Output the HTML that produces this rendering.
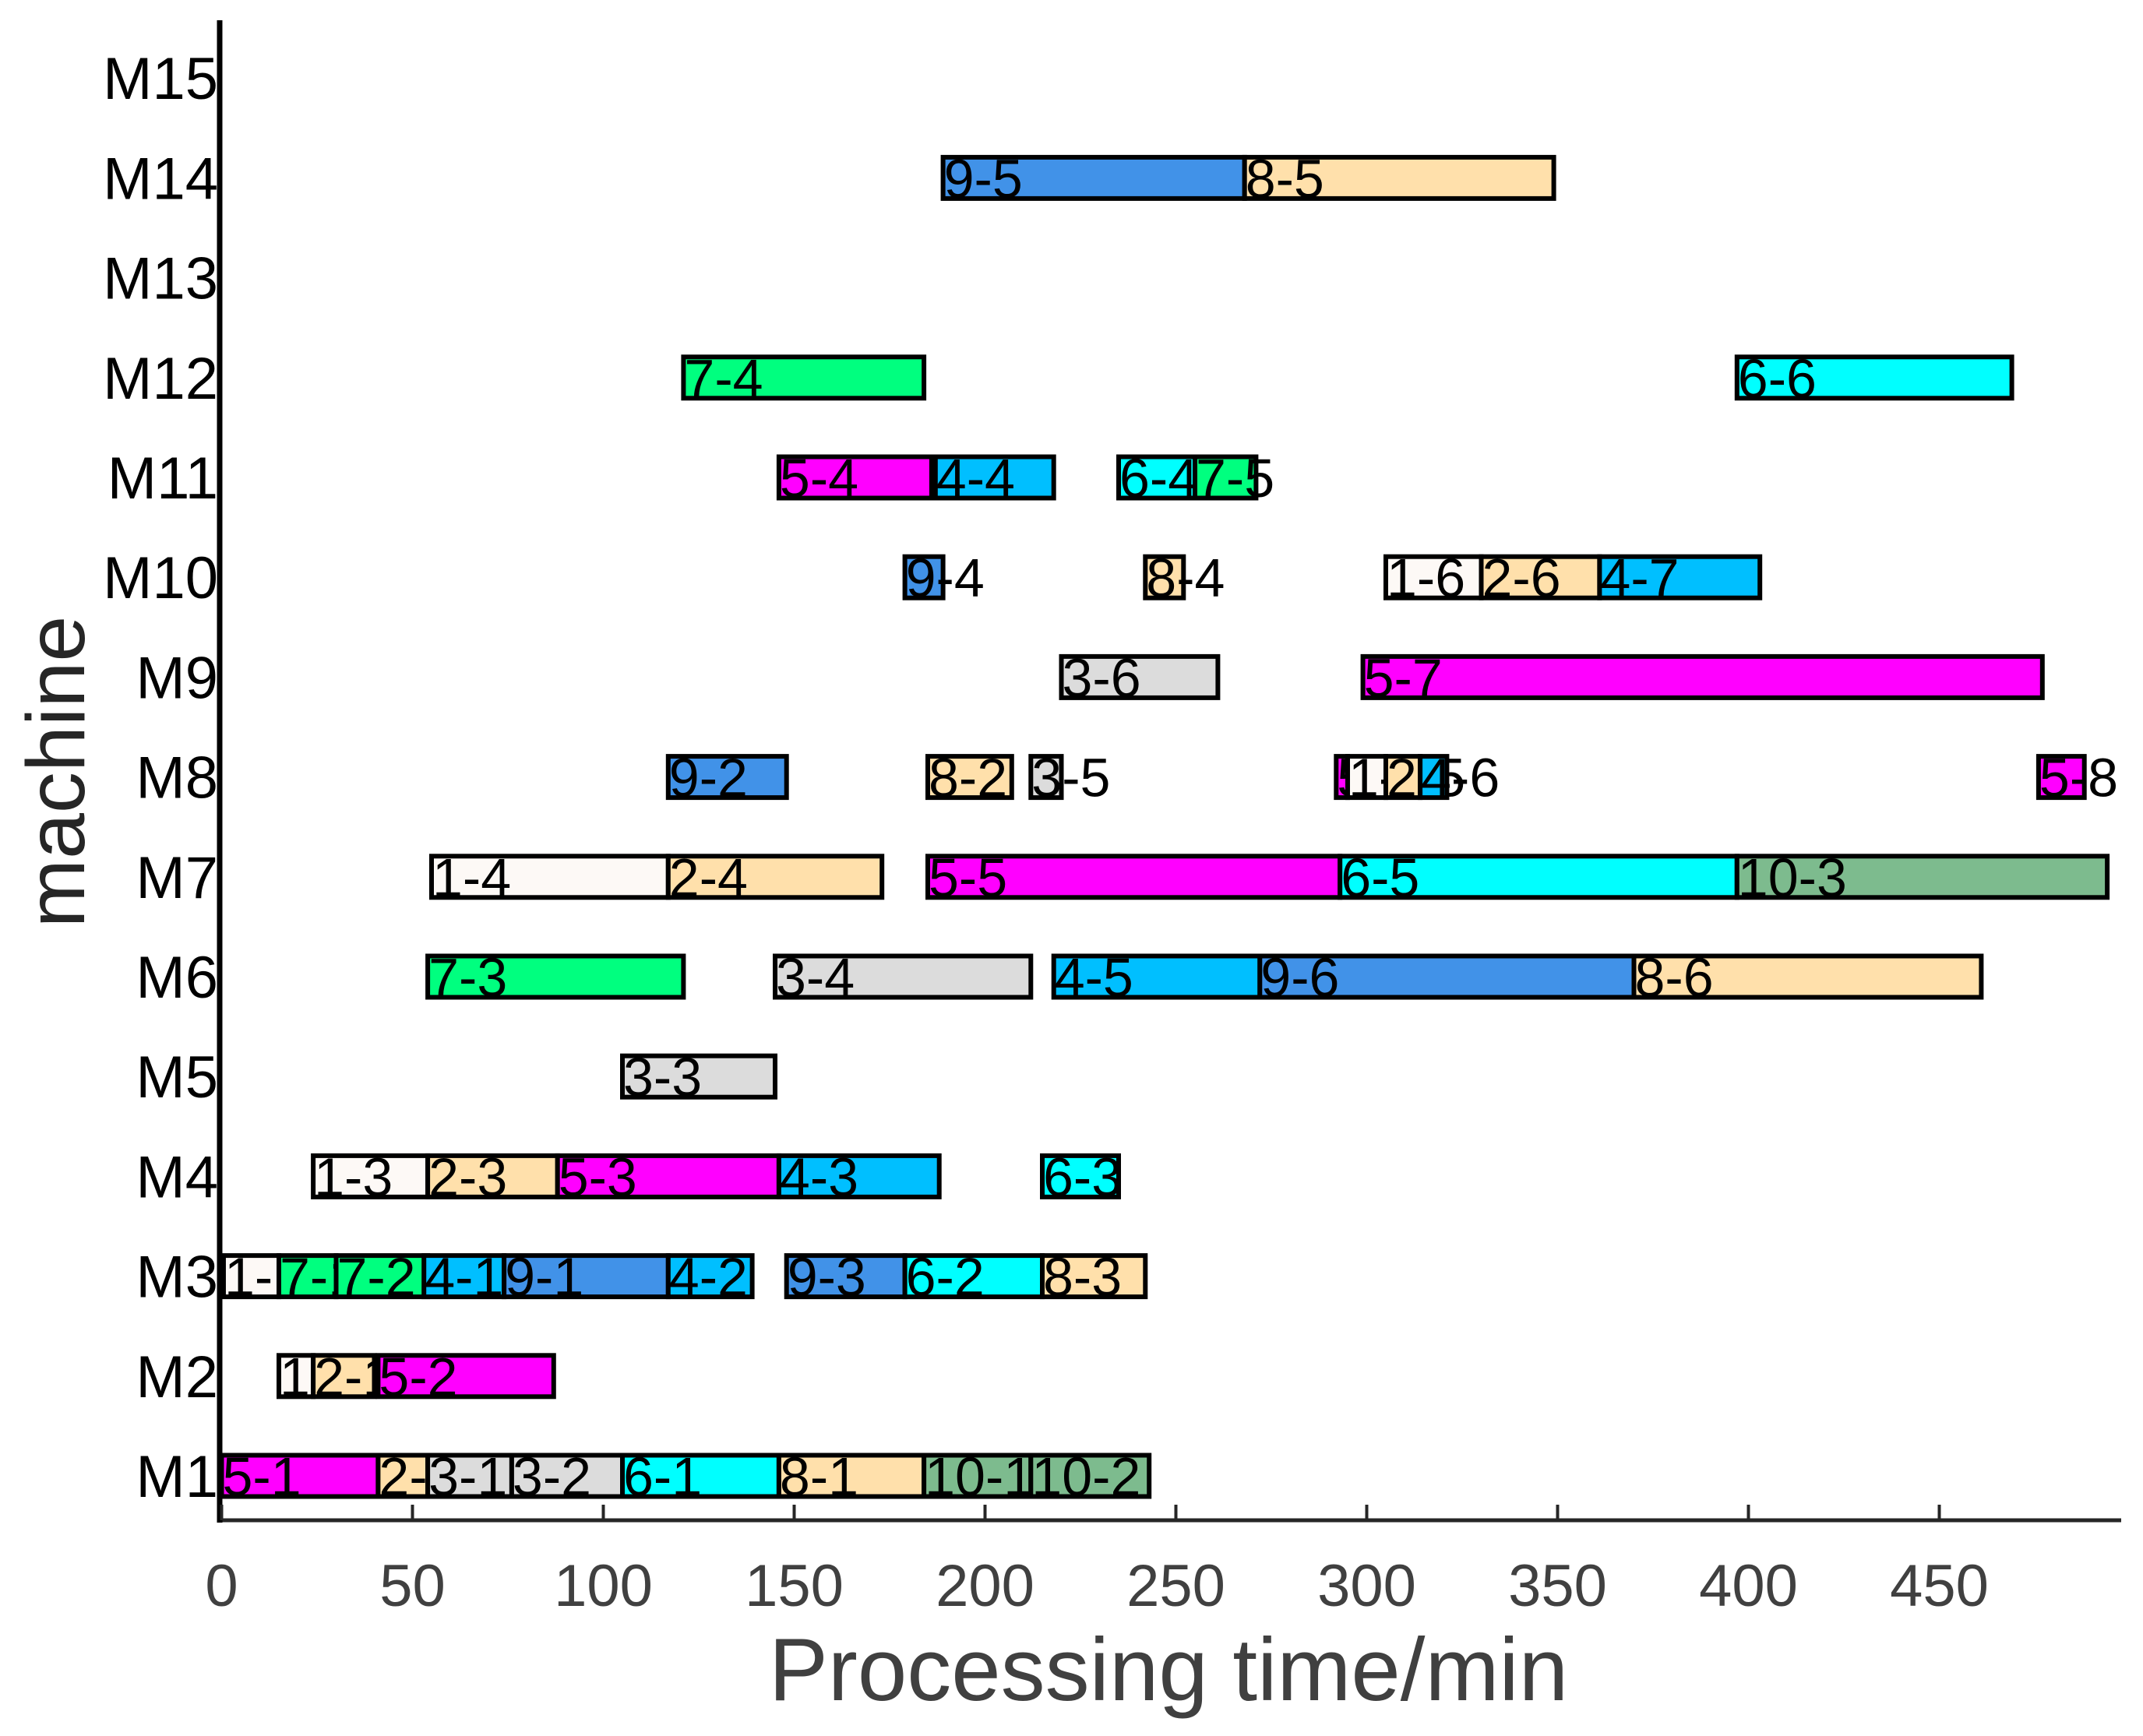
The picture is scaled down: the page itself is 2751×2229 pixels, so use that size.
<!DOCTYPE html>
<html><head><meta charset="utf-8"><style>
html,body{margin:0;padding:0;background:#fff;}
svg{display:block;font-family:"Liberation Sans",Arial,sans-serif;}
</style></head><body>
<svg id="chart" width="2751" height="2229" viewBox="0 0 2751 2229" xmlns="http://www.w3.org/2000/svg">
<g id="bars"></g>
<g id="axes"></g>
<text x="1500" y="2183" font-size="114" fill="#404040" text-anchor="middle">Processing time/min</text>
<text x="0" y="0" font-size="106" fill="#262626" text-anchor="middle" transform="translate(108,991) rotate(-90)">machine</text>
</svg>
<script>
const machineLabels = ["M1","M2","M3","M4","M5","M6","M7","M8","M9","M10","M11","M12","M13","M14","M15"];
const xTicks = [0,50,100,150,200,250,300,350,400,450];
const jobColors = ["#fdf9f6","#ffe0ab","#dcdcdc","#00bfff","#ff00ff","#00ffff","#00ff7f","#ffe0ab","#4192e8","#7dbb8e"];
const taskMachine = [1,1,1,1,1,1,1,1, 2,2,2, 3,3,3,3,3,3,3,3,3, 4,4,4,4,4, 5, 6,6,6,6,6, 7,7,7,7,7, 8,8,8,8,8,8,8,8, 9,9, 10,10,10,10,10, 11,11,11,11, 12,12, 14,14];
const taskLabel = ["5-1","2-1","3-1","3-2","6-1","8-1","10-1","10-2",
 "1-1","2-1","5-2",
 "1-1","7-1","7-2","4-1","9-1","4-2","9-3","6-2","8-3",
 "1-3","2-3","5-3","4-3","6-3",
 "3-3",
 "7-3","3-4","4-5","9-6","8-6",
 "1-4","2-4","5-5","6-5","10-3",
 "9-2","8-2","3-5","5-6","1-5","2-5","4-6","5-8",
 "3-6","5-7",
 "9-4","8-4","1-6","2-6","4-7",
 "5-4","4-4","6-4","7-5",
 "7-4","6-6",
 "9-5","8-5"];
const taskStart = [0,41,54,76,105,146,184,212,
 15,24,41,
 0.5,15,30,53,74,117,148,179,215,
 24,54,88,146,215,
 105,
 54,145,218,272,370,
 55,117,185,293,397,
 117,185,212,292,295,305,314,476,
 220,299,
 179,242,305,330,361,
 146,187,235,255,
 121,397,
 189,268];
const taskEnd = [41,54,76,105,146,184,212,243,
 24,40,87,
 15,30,54,74,117,139,179,215,242,
 54,88,146,188,235,
 145,
 121,212,272,370,461,
 117,173,293,397,494,
 148,207,220,295,305,314,321,488,
 261,477,
 189,252,330,361,403,
 186,218,256,271,
 184,469,
 268,349];

const X0=284.5, KX=4.9, Y1=1895, DY=128.2, BH=53;
function xs(v){return X0+v*KX;}
function ys(m){return Y1-(m-1)*DY;}
const NS="http://www.w3.org/2000/svg";
const bars=document.getElementById('bars');
for(let i=0;i<taskLabel.length;i++){
  const job=parseInt(taskLabel[i].split('-')[0]);
  const x=xs(taskStart[i]), w=xs(taskEnd[i])-x, yc=ys(taskMachine[i]);
  const r=document.createElementNS(NS,'rect');
  
  
  r.setAttribute('x',x);r.setAttribute('y',yc-BH/2);
  r.setAttribute('width',w);r.setAttribute('height',BH);
  r.setAttribute('fill',jobColors[job-1]);r.setAttribute('stroke','#000');r.setAttribute('stroke-width','6');
  bars.appendChild(r);
  const t=document.createElementNS(NS,'text');
  
  
  t.setAttribute('x',x+1);t.setAttribute('y',yc+25);
  t.setAttribute('font-size','70');t.setAttribute('fill','#000');
  t.textContent=taskLabel[i];
  bars.appendChild(t);
}
const axes=document.getElementById('axes');
function line(x1,y1,x2,y2,c,w,name){
  const l=document.createElementNS(NS,'line');
  
  
  l.setAttribute('x1',x1);l.setAttribute('y1',y1);l.setAttribute('x2',x2);l.setAttribute('y2',y2);
  l.setAttribute('stroke',c);l.setAttribute('stroke-width',w);
  axes.appendChild(l);
}
line(282,1952,2723,1952,'#262626',5,'x-axis-line');
line(282,26,282,1955,'#000',7,'y-axis-line');
xTicks.forEach(v=>{
  line(xs(v),1952,xs(v),1932,'#262626',4,'x-tick');
  const t=document.createElementNS(NS,'text');
  
  
  t.setAttribute('x',xs(v));t.setAttribute('y',2062);
  t.setAttribute('font-size','76');t.setAttribute('fill','#404040');t.setAttribute('text-anchor','middle');
  t.textContent=v;
  axes.appendChild(t);
});
machineLabels.forEach((m,i)=>{
  const t=document.createElementNS(NS,'text');
  
  
  t.setAttribute('x',280);t.setAttribute('y',ys(i+1)+27);
  t.setAttribute('font-size','76');t.setAttribute('fill','#000');t.setAttribute('text-anchor','end');
  t.textContent=m;
  axes.appendChild(t);
});
</script>
</body></html>
